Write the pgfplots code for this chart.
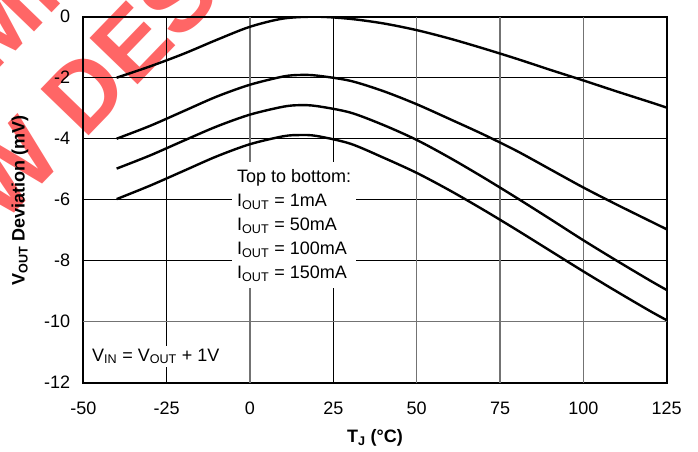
\documentclass[border=0pt]{standalone}
\usepackage{fontspec}
\setmainfont{Liberation Sans}
\usepackage{pgfplots}
\pgfplotsset{compat=1.18}
\begin{document}
\fontsize{18bp}{22bp}\selectfont
\begin{tikzpicture}
\useasboundingbox (0,0) rectangle (698bp,-452bp);
\begin{scope}[text=red, text opacity=0.6, font=\fontsize{97bp}{110bp}\selectfont\bfseries]
\node[rotate=46, anchor=base, inner sep=0pt] at (68.1bp,-157.4bp) {FOR NEW DESIGNS};
\node[rotate=46, anchor=base, inner sep=0pt] at (-12.1bp,-79.9bp) {NOT RECOMMENDED};
\end{scope}
\begin{axis}[
  at={(83.3bp,-382.7bp)}, anchor=south west,
  scale only axis, width=583.4bp, height=366bp,
  xmin=-50, xmax=125, ymin=-12, ymax=0,
  axis line style={line width=1.8bp},
  grid=major,
  major grid style={black, line width=0.8bp},
  major tick length=0pt,
  xtick={-50,-25,25,125}, xticklabels={-50,-25,25,125},
  extra x ticks={0,50,75,100}, extra x tick labels={0,50,75,100},
  extra x tick style={major grid style={black!55, line width=1.1bp}},
  ytick={-12,-8,-6,-4,-2,0}, yticklabels={-12,-8,-6,-4,-2,0},
  extra y ticks={-10}, extra y tick labels={-10},
  extra y tick style={major grid style={black!55, line width=1.1bp}},
  xticklabel style={inner sep=0pt, anchor=north, yshift=-19.3bp},
  yticklabel style={inner sep=0pt, anchor=east, xshift=-13bp},
  xlabel={\bfseries T\textsubscript{J} (°C)},
  xlabel style={at={(axis description cs:0.5,-0.151)}, anchor=center, inner sep=0pt},
  ylabel={\bfseries V\textsubscript{OUT} Deviation (mV)},
  ylabel style={at={(axis description cs:-0.1085,0.499)}, anchor=center, inner sep=0pt},
]
\addplot[black, line width=2.4bp, smooth] coordinates {
(-40,-2.00) (-30,-1.63) (-20,-1.22) (-10,-0.76) (0,-0.33) (10,-0.06) (20,0.00) (30,-0.07) (40,-0.22) (50,-0.44) (60,-0.72) (70,-1.04) (80,-1.38) (90,-1.74) (100,-2.09) (110,-2.45) (120,-2.80) (125,-2.98)};
\addplot[black, line width=2.4bp, smooth] coordinates {
(-40,-4.00) (-30,-3.58) (-20,-3.10) (-10,-2.62) (0,-2.23) (10,-1.96) (15,-1.91) (20,-1.93) (30,-2.10) (40,-2.44) (50,-2.87) (60,-3.36) (70,-3.86) (80,-4.40) (90,-5.00) (100,-5.60) (110,-6.16) (120,-6.70) (125,-6.97)};
\addplot[black, line width=2.4bp, smooth] coordinates {
(-40,-4.98) (-30,-4.55) (-20,-4.07) (-10,-3.60) (0,-3.21) (10,-2.95) (15,-2.90) (20,-2.93) (30,-3.14) (40,-3.55) (50,-4.04) (60,-4.63) (70,-5.27) (80,-5.94) (90,-6.63) (100,-7.33) (110,-8.00) (120,-8.65) (125,-8.96)};
\addplot[black, line width=2.4bp, smooth] coordinates {
(-40,-5.98) (-30,-5.54) (-20,-5.06) (-10,-4.58) (0,-4.18) (10,-3.92) (15,-3.88) (20,-3.91) (30,-4.16) (40,-4.62) (50,-5.12) (60,-5.70) (70,-6.33) (80,-6.99) (90,-7.67) (100,-8.35) (110,-9.01) (120,-9.65) (125,-9.95)};
\node[fill=white, align=left, inner xsep=5bp, inner ysep=7bp, anchor=north west,
      font=\fontsize{18bp}{24bp}\selectfont] at (axis cs:-5.4,-4.764)
  {Top to bottom:\\ I\textsubscript{OUT} = 1mA\\ I\textsubscript{OUT} = 50mA\\ I\textsubscript{OUT} = 100mA\\ I\textsubscript{OUT} = 150mA};
\node[fill=white, anchor=base west, inner sep=3bp] at (axis cs:-48.3,-11.29)
  {V\textsubscript{IN} = V\textsubscript{OUT} + 1V};
\end{axis}
\end{tikzpicture}
\end{document}
